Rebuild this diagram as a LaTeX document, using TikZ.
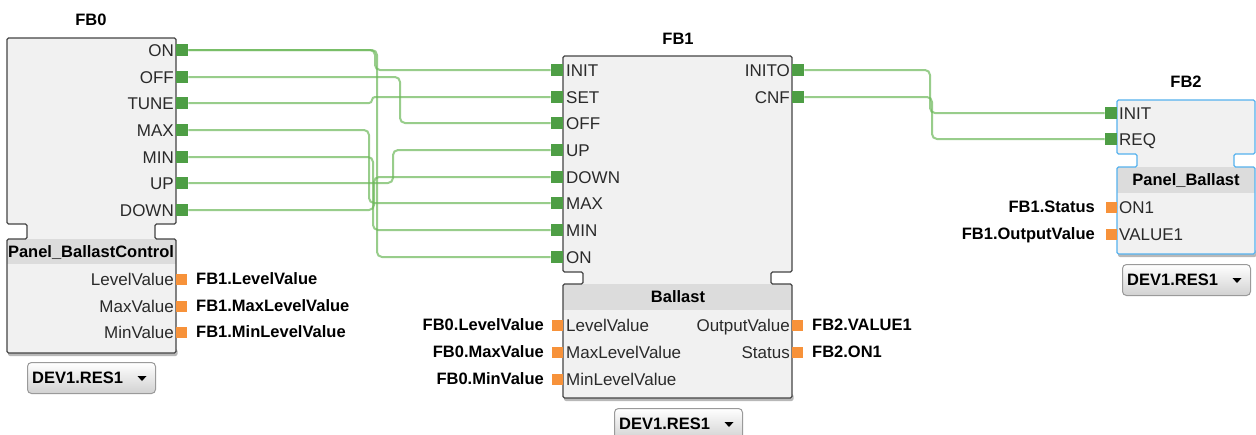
\documentclass[tikz,border=0pt]{standalone}
\usepackage{fontspec}
\setmainfont{Liberation Sans}
\usetikzlibrary{calc}

\definecolor{boxfill}{HTML}{F1F1F1}
\definecolor{hdrfill}{HTML}{DCDCDC}
\definecolor{boxline}{HTML}{444444}
\definecolor{evgreen}{HTML}{4E9E45}
\definecolor{wiregreen}{HTML}{6DB85A}
\definecolor{dorange}{HTML}{F7923A}
\definecolor{fbblue}{HTML}{55B2EE}
\definecolor{txt}{HTML}{2A2A2A}
\definecolor{ddline}{HTML}{9A9A9A}

\tikzset{
  wire/.style={draw=wiregreen, line width=2pt, opacity=0.7, rounded corners=5pt},
  evport/.style={fill=evgreen, minimum width=12pt, minimum height=12pt, inner sep=0pt, draw=none},
  dport/.style={fill=dorange, minimum width=11pt, minimum height=11pt, inner sep=0pt, draw=none},
  plabel/.style={font=\fontsize{17}{19}\selectfont, text=txt, inner sep=0pt, text height=12pt, text depth=0pt},
  blabel/.style={font=\bfseries\fontsize{16.5}{18}\selectfont, text=black, inner sep=0pt, text height=11.5pt, text depth=0pt},
  ddbox/.style={draw=ddline, rounded corners=4pt, top color=white, bottom color=black!18, line width=1pt, minimum width=128pt, minimum height=31pt, inner sep=0pt, anchor=north west},
}

% L T R Eb Dt Ht Db bordercolor
\newcommand{\fbshape}[8]{%
  \fill[black, opacity=0.28, rounded corners=2pt] (#1+1,#7-4) rectangle (#3+1.5,#7+3);
  \path[fill=boxfill] (#1,#2) -- (#3,#2) -- (#3,#4) -- ({#3-21},#4) -- ({#3-21},#5) -- (#3,#5) -- (#3,#7) -- (#1,#7) -- (#1,#5) -- ({#1+20},#5) -- ({#1+20},#4) -- (#1,#4) -- cycle;
  \fill[hdrfill] (#1,#5) rectangle (#3,#6);
  \draw[#8, line width=1.3pt, rounded corners=1.5pt] (#1,#2) -- (#3,#2) -- (#3,#4) -- ({#3-21},#4) -- ({#3-21},#5) -- (#3,#5) -- (#3,#7) -- (#1,#7) -- (#1,#5) -- ({#1+20},#5) -- ({#1+20},#4) -- (#1,#4) -- cycle;
}

\begin{document}
\begin{tikzpicture}[x=1pt,y=-1pt]
\useasboundingbox (0,0) rectangle (1256,434);
\clip (0,0) rectangle (1256,434);
\fill[white] (0,0) rectangle (1256,434);

% ---------- boxes ----------
\fbshape{7}{38}{176}{224}{239}{264}{353}{boxline}
\fbshape{563}{56}{792}{272}{284}{310}{398}{boxline}
\fbshape{1117}{100}{1255}{154}{167}{193}{254}{fbblue}

% ---------- titles ----------
\node[blabel] (t0) at (91,20) {FB0};
\node[blabel] (t1) at (678,39) {FB1};
\node[blabel] (t2) at (1186,82) {FB2};
\node[blabel] (h0) at (91,251.5) {Panel\_BallastControl};
\node[blabel] (h1) at (678,297) {Ballast};
\node[blabel] (h2) at (1186,180) {Panel\_Ballast};

% ---------- FB0 ports ----------
\foreach \n/\t/\y in {on/ON/50, off/OFF/77, tune/TUNE/103, max/MAX/130, min/MIN/157, up/UP/183, down/DOWN/210}{
  \node[evport, anchor=west] (fb0\n) at (176,\y) {};
  \node[plabel, anchor=east] (fb0\n l) at (174,\y) {\t};
}
\foreach \n/\t/\e/\y in {lv/LevelValue/FB1.LevelValue/279, mx/MaxValue/FB1.MaxLevelValue/306, mn/MinValue/FB1.MinLevelValue/332}{
  \node[dport, anchor=west] (fb0\n) at (176,\y) {};
  \node[plabel, anchor=east] (fb0\n l) at (174,\y) {\t};
  \node[blabel, anchor=west] (fb0\n e) at (196,\y) {\e};
}

% ---------- FB1 ports ----------
\foreach \n/\t/\y in {init/INIT/70, set/SET/97, off/OFF/123, up/UP/150, down/DOWN/177, max/MAX/203, min/MIN/230, on/ON/257}{
  \node[evport, anchor=east] (fb1\n) at (563,\y) {};
  \node[plabel, anchor=west] (fb1\n l) at (566,\y) {\t};
}
\foreach \n/\t/\y in {inito/INITO/70, cnf/CNF/97}{
  \node[evport, anchor=west] (fb1\n) at (792,\y) {};
  \node[plabel, anchor=east] (fb1\n l) at (790,\y) {\t};
}
\foreach \n/\t/\e/\y in {lv/LevelValue/FB0.LevelValue/325, mx/MaxLevelValue/FB0.MaxValue/352, mn/MinLevelValue/FB0.MinValue/379}{
  \node[dport, anchor=east] (fb1\n) at (563,\y) {};
  \node[plabel, anchor=west] (fb1\n l) at (566,\y) {\t};
  \node[blabel, anchor=east] (fb1\n e) at (544,\y) {\e};
}
\foreach \n/\t/\e/\y in {ov/OutputValue/FB2.VALUE1/325, st/Status/FB2.ON1/352}{
  \node[dport, anchor=west] (fb1\n) at (792,\y) {};
  \node[plabel, anchor=east] (fb1\n l) at (790,\y) {\t};
  \node[blabel, anchor=west] (fb1\n e) at (812,\y) {\e};
}

% ---------- FB2 ports ----------
\foreach \n/\t/\y in {init/INIT/113, req/REQ/139}{
  \node[evport, anchor=east] (fb2\n) at (1117,\y) {};
  \node[plabel, anchor=west] (fb2\n l) at (1119,\y) {\t};
}
\foreach \n/\t/\e/\y in {on/ON1/FB1.Status/207, val/VALUE1/FB1.OutputValue/234}{
  \node[dport, anchor=east] (fb2\n) at (1117,\y) {};
  \node[plabel, anchor=west] (fb2\n l) at (1119,\y) {\t};
  \node[blabel, anchor=east] (fb2\n e) at (1095,\y) {\e};
}

% ---------- wire columns ----------
\coordinate (xinit) at (375,0);
\coordinate (xon) at (377,0);
\coordinate (xoff) at (400,0);
\coordinate (xset) at (372,0);
\coordinate (xmax) at (369,0);
\coordinate (xmin) at (373,0);
\coordinate (xup) at (393,0);
\coordinate (xdown) at (374,0);
\coordinate (xinito) at (930,0);
\coordinate (xcnf) at (932,0);

\foreach \a/\b/\c in {fb0on/fb1init/xinit, fb0on/fb1on/xon, fb0off/fb1off/xoff, fb0max/fb1max/xmax, fb0min/fb1min/xmin, fb0up/fb1up/xup, fb0down/fb1down/xdown, fb1inito/fb2init/xinito, fb1cnf/fb2req/xcnf}{
  \draw[wire] (\a.east) -- (\a.east -| \c) -- (\c |- \b.west) -- (\b.west);
}
\draw[wire, rounded corners=3pt] (fb0tune.east) -- (fb0tune.east -| xset) -- (xset |- fb1set.west) -- (fb1set.west);

% ---------- dropdowns ----------
\foreach \k/\x/\y in {0/27/362, 1/614/408, 2/1122/264}{
  \node[ddbox] (dd\k) at (\x,\y) {};
  \node[blabel, anchor=west] (dd\k t) at ([xshift=5pt]dd\k.west) {DEV1.RES1};
  \fill[black] ([xshift=-14pt]dd\k.east) ++(-4.5,-2) -- ++(9,0) -- ++(-4.5,5) -- cycle;
}

\end{tikzpicture}
\end{document}
